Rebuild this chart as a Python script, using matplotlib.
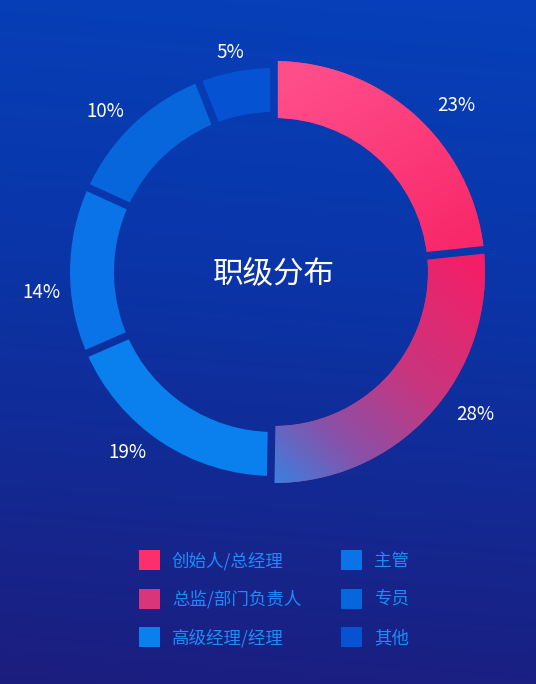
import numpy as np
import matplotlib
matplotlib.use('Agg')
from matplotlib import pyplot as plt
from matplotlib.patches import Wedge, Rectangle
from matplotlib.path import Path
from matplotlib.colors import to_rgb

plt.rcParams['font.family'] = ['Noto Sans CJK SC', 'DejaVu Sans']

# Data
categories = ['创始人/总经理', '总监/部门负责人', '高级经理/经理', '主管', '专员', '其他']
shares = [23.3, 26.9, 18.2, 13.3, 12.2, 6.0]      # slice sizes as drawn
pct_labels = ['23%', '28%', '19%', '14%', '10%', '5%']
title = '职级分布'

W, H = 536, 684
cx, cy = 274, H - 272

colors = ['#fb2e6e', '#d8357a', '#0a80ef', '#0a73e8', '#0866dc', '#0552d2']
highlight = [True, True, False, False, False, False]

# layout of the percentage labels (angle nudge in deg, radius in px)
label_nudge = [-5.3, 7.5, -5.7, 5.1, 2.5, 0.4]
label_radius = [248, 245, 231, 233, 234, 226]
text_drop = 2  # visual centring of the glyphs

yy, xx = np.mgrid[0:H, 0:W]


def ramp(t, stops):
    t = np.clip(t, 0, 1)
    pos = [s[0] for s in stops]
    out = np.zeros(t.shape + (3,))
    for k in range(3):
        out[..., k] = np.interp(t, pos, [to_rgb(s[1])[k] for s in stops])
    return out


def linear_fill(p0, p1, stops):
    # p0, p1 in pixel coords (y down)
    d = np.array(p1, float) - np.array(p0, float)
    t = ((xx - p0[0]) * d[0] + (yy - p0[1]) * d[1]) / (d @ d)
    return ramp(t, stops)


bg_stops = [(0.0, '#0640ba'), (0.4, '#0a35a8'), (1.0, '#1c1d7e')]
bg = ramp((yy + 0.08 * (W - xx)) / (H + 0.08 * W), bg_stops)

fig = plt.figure(figsize=(W / 100, H / 100), dpi=100)
ax = fig.add_axes([0, 0, 1, 1])
ax.set_xlim(0, W)
ax.set_ylim(0, H)
ax.axis('off')

ax.imshow(bg, extent=(0, W, 0, H), origin='upper', aspect='auto', zorder=0)

fills = {
    0: linear_fill((330, 61), (450, 250), [(0, '#ff4d8a'), (1, '#f8286a')]),
    1: linear_fill((485, 255), (275, 483),
                   [(0, '#f81c64'), (0.45, '#c8367e'), (0.75, '#8a50a8'), (1, '#3a80e0')]),
}

total = sum(shares)
edges = 90 - 360 * np.concatenate([[0], np.cumsum(shares)]) / total

for i, val in enumerate(shares):
    r_in, r_out = (154, 211) if highlight[i] else (160, 204)
    w = Wedge((cx, cy), r_out, edges[i + 1], edges[i], width=r_out - r_in,
              facecolor=colors[i], edgecolor='none', zorder=2)
    ax.add_patch(w)
    if i in fills:
        im = ax.imshow(fills[i], extent=(0, W, 0, H), origin='upper',
                       aspect='auto', zorder=3)
        im.set_clip_path(w)

    mid = np.radians((edges[i] + edges[i + 1]) / 2 + label_nudge[i])
    ax.text(cx + label_radius[i] * np.cos(mid),
            cy + label_radius[i] * np.sin(mid) - text_drop,
            pct_labels[i], color='white', fontsize=13.5, fontweight='medium',
            ha='center', va='center', zorder=5)

# gaps between slices, painted with the background
gap_paths = []
half = 3.8
for a in np.radians(edges[:-1]):
    u = np.array([np.cos(a), np.sin(a)])
    n = np.array([-u[1], u[0]])
    c = np.array([cx, cy])
    pts = [c + u * 146 + n * half, c + u * 218 + n * half,
           c + u * 218 - n * half, c + u * 146 - n * half]
    gap_paths.append(Path(pts + [pts[0]], closed=True))
gap = ax.imshow(bg, extent=(0, W, 0, H), origin='upper', aspect='auto', zorder=4)
gap.set_clip_path(Path.make_compound_path(*gap_paths), ax.transData)

ax.text(cx, cy - text_drop, title, color='white', fontsize=22, fontweight='medium',
        ha='center', va='center', zorder=5)

# legend, 2 columns x 3 rows
for i, name in enumerate(categories):
    row, col = i % 3, i // 3
    x0 = 139 + col * 202
    yc = H - (560 + row * 38.5)
    ax.add_patch(Rectangle((x0, yc - 10), 21, 20, facecolor=colors[i],
                           edgecolor='none', zorder=5))
    ax.text(x0 + 33, yc - 1, name, color='#1c8cf8', fontsize=12.6, fontweight='medium',
            ha='left', va='center', zorder=5)

fig.savefig('out.png', dpi=100)
